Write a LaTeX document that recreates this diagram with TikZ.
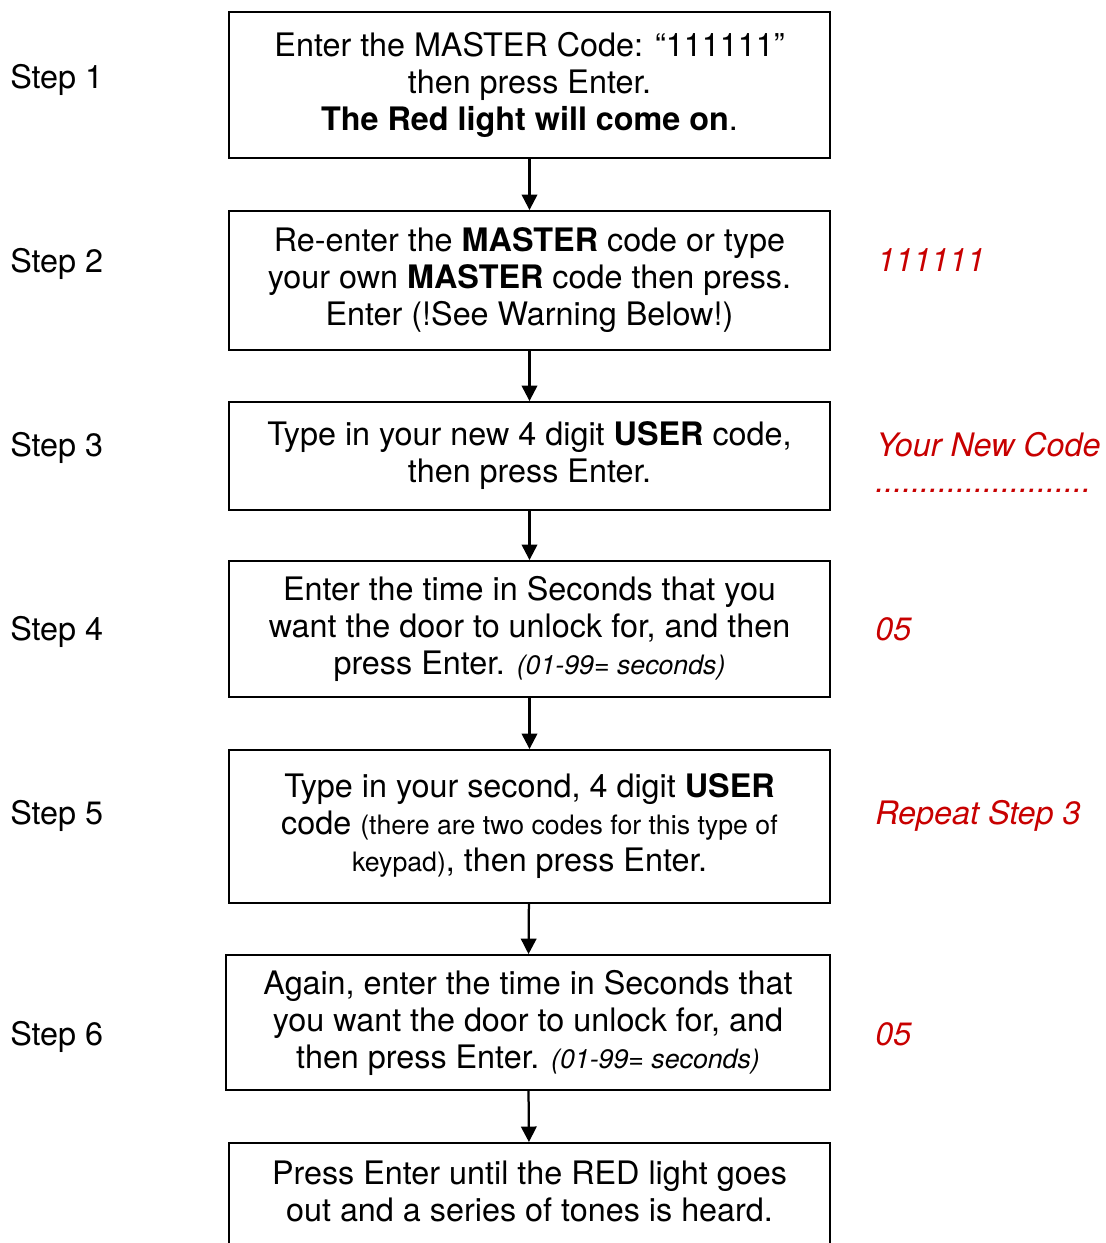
\documentclass[tikz,border=0pt]{standalone}
\usepackage{fontspec}
\setmainfont{TeX Gyre Heros}
\usetikzlibrary{positioning}
\usetikzlibrary{arrows.meta}
\definecolor{notered}{RGB}{200,0,0}
\newcommand{\fsmall}{\fontsize{19}{22}\selectfont}

\begin{document}
\begin{tikzpicture}[x=0.025cm,y=-0.025cm,
    every node/.style={font=\fontsize{23}{26.3}\selectfont},
    stepbox/.style={draw,line width=1.3pt,minimum width=15.025cm,align=center,inner sep=0pt},
    steplabel/.style={anchor=base west,inner sep=0pt},
    notelabel/.style={anchor=base west,inner sep=0pt,text=notered,font=\fontsize{23}{26.3}\selectfont\itshape},
    link/.style={-{Triangle[width=11pt,length=11pt]},line width=1.6pt}]
    \useasboundingbox (0,0) rectangle (1105,1243);

    \path (529.5, 85) node [stepbox,minimum height=3.65cm] (b1) {Enter the MASTER Code: “111111”\\then press Enter.\\\textbf{The Red light will come on}.};
    \path (529.5, 280.5) node [stepbox,minimum height=3.475cm] (b2) {Re-enter the \textbf{MASTER} code or type\\your own \textbf{MASTER} code then press.\\Enter (!See Warning Below!)};
    \path (529.5, 456) node [stepbox,minimum height=2.7cm] (b3) {Type in your new 4 digit \textbf{USER} code,\\then press Enter.};
    \path (529.5, 629) node [stepbox,minimum height=3.4cm] (b4) {Enter the time in Seconds that you\\want the door to unlock for, and then\\press Enter. {\fsmall\itshape (01-99= seconds)}};
    \path (529.5, 826.5) node [stepbox,minimum height=3.825cm] (b5) {Type in your second, 4 digit \textbf{USER}\\code {\fsmall (there are two codes for this type of}\\{\fsmall keypad)}, then press Enter.};
    \path (528, 1022.5) node [stepbox,minimum width=15.1cm,minimum height=3.375cm] (b6) {Again, enter the time in Seconds that\\you want the door to unlock for, and\\then press Enter. {\fsmall\itshape (01-99= seconds)}};
    \path (529.5, 1142) node [stepbox,anchor=north,text height=1.975cm,text depth=1.6cm] (b7) {Press Enter until the RED light goes\\out and a series of tones is heard.};

    \draw [link] (b1) -- (b2);
    \draw [link] (b2) -- (b3);
    \draw [link] (b3) -- (b4);
    \draw [link] (b4) -- (b5);
    \draw [link] (b5) -- (b6);
    \draw [link] (b6) -- (b7);

    \path (10, 88) node [steplabel] (l1) {Step 1};
    \path (10, 272) node [steplabel] (l2) {Step 2};
    \path (10, 456) node [steplabel] (l3) {Step 3};
    \path (10, 640) node [steplabel] (l4) {Step 4};
    \path (10, 824) node [steplabel] (l5) {Step 5};
    \path (10, 1045) node [steplabel] (l6) {Step 6};

    \path (877, 271) node [notelabel] (n2) {111111};
    \path (876, 456) node [notelabel] (n3) {Your New Code};
    \path (875, 492) node [notelabel] (n3d) {........................};
    \path (875, 640) node [notelabel] (n4) {05};
    \path (875, 824) node [notelabel] (n5) {Repeat Step 3};
    \path (875, 1045) node [notelabel] (n6) {05};
\end{tikzpicture}
\end{document}
